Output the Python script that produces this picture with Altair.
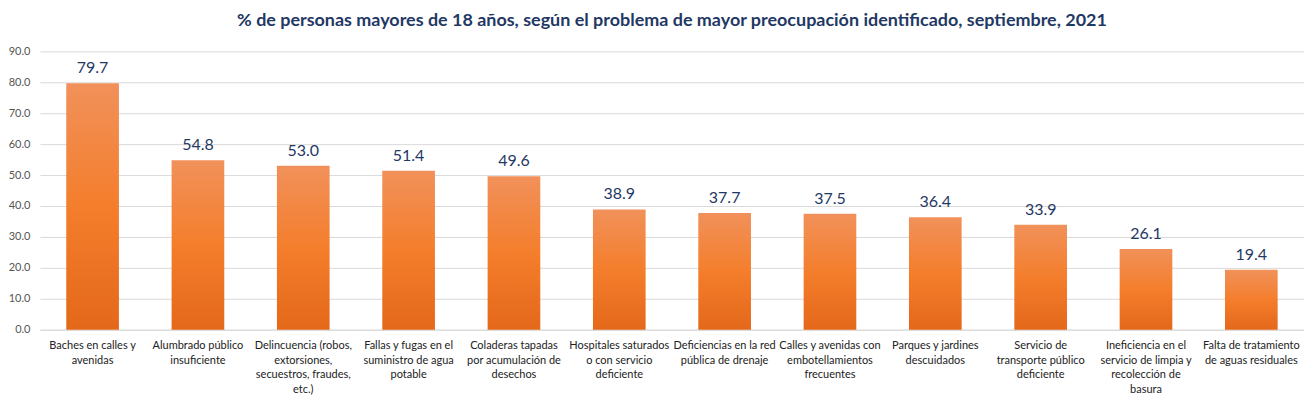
import altair as alt
import pandas as pd

categories = [
    "Baches en calles y|avenidas",
    "Alumbrado público|insuficiente",
    "Delincuencia (robos,|extorsiones,|secuestros, fraudes,|etc.)",
    "Fallas y fugas en el|suministro de agua|potable",
    "Coladeras tapadas|por acumulación de|desechos",
    "Hospitales saturados|o con servicio|deficiente",
    "Deficiencias en la red|pública de drenaje",
    "Calles y avenidas con|embotellamientos|frecuentes",
    "Parques y jardines|descuidados",
    "Servicio de|transporte público|deficiente",
    "Ineficiencia en el|servicio de limpia y|recolección de|basura",
    "Falta de tratamiento|de aguas residuales",
]
values = [79.7, 54.8, 53.0, 51.4, 49.6, 38.9, 37.7, 37.5, 36.4, 33.9, 26.1, 19.4]
y_ticks = [0, 10, 20, 30, 40, 50, 60, 70, 80, 90]

df = pd.DataFrame({"cat": categories, "val": values})

label_font = "Liberation Sans Narrow, Lato, sans-serif"

x = alt.X(
    "cat:N",
    sort=None,
    title=None,
    scale=alt.Scale(paddingInner=0.5, paddingOuter=0.25),
    axis=alt.Axis(
        labelExpr="split(datum.value, '|')",
        labelAngle=0,
        labelLimit=0,
        labelOverlap=False,
        labelFont=label_font,
        labelFontSize=11,
        labelColor="#222222",
        labelLineHeight=14.5,
        labelPadding=10,
        labelBaseline="top",
        ticks=False,
        domainColor="#D9D9D9",
        domainWidth=1,
        grid=False,
    ),
)
y = alt.Y(
    "val:Q",
    title=None,
    scale=alt.Scale(domain=[0, 90], nice=False),
    axis=alt.Axis(
        values=y_ticks,
        format=".1f",
        labelFont="Lato, sans-serif",
        labelFontSize=11,
        labelOverlap=False,
        labelColor="#555555",
        labelPadding=10,
        ticks=False,
        domain=False,
        grid=True,
        gridColor="#D9D9D9",
        gridWidth=1,
    ),
)

grad = alt.Gradient(
    gradient="linear",
    x1=0, x2=0, y1=0, y2=1,
    stops=[
        alt.GradientStop(color="#F1915A", offset=0),
        alt.GradientStop(color="#F47E2C", offset=0.5),
        alt.GradientStop(color="#E4681A", offset=1),
    ],
)

base = alt.Chart(df).encode(x=x, y=y)
bars = base.mark_bar(color=grad)
texts = base.mark_text(
    dy=-15, fontSize=16, font="Lato, sans-serif", color="#1F3864"
).encode(text=alt.Text("val:Q", format=".1f"))

chart = (
    alt.layer(bars, texts)
    .properties(
        width=1267,
        height=279,
        title=alt.TitleParams(
            "% de personas  mayores de 18 años, según el problema de mayor preocupación identificado, septiembre, 2021",
            font="Lato, sans-serif",
            fontSize=18,
            fontWeight="bold",
            color="#1F3864",
            anchor="middle",
            offset=15,
        ),
        autosize=alt.AutoSizeParams(type="none"),
        padding={"left": 32, "top": 43, "right": 0, "bottom": 70},
    )
    .configure_view(stroke=None)
)

chart.save("out.html", embed_options={"renderer": "svg", "actions": False})
